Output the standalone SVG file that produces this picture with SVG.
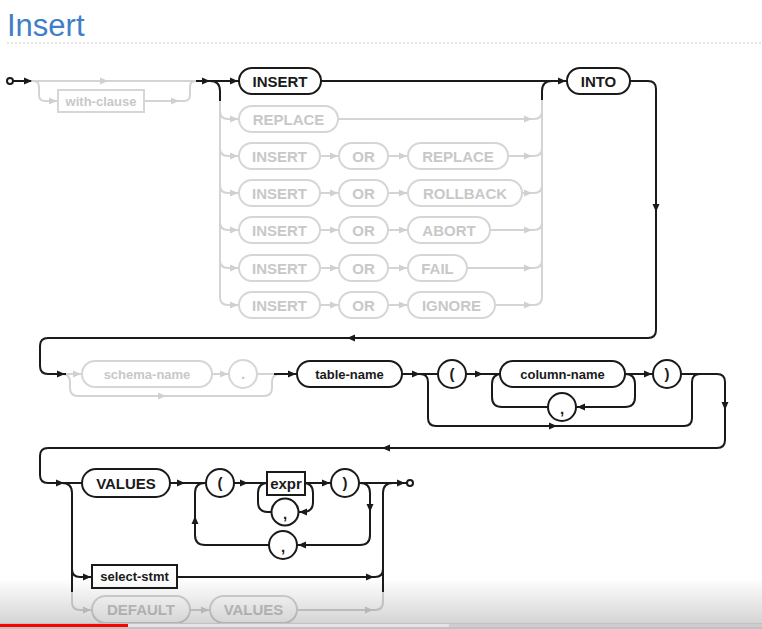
<svg xmlns="http://www.w3.org/2000/svg" xmlns:xlink="http://www.w3.org/1999/xlink" width="762" height="629" viewBox="0 0 762 629">
  <style>
    .b { fill: none; stroke: #1a1a1a; stroke-width: 2; }
    .g { fill: none; stroke: #d4d4d4; stroke-width: 2; }
    .nb { fill: #ffffff; stroke: #1a1a1a; stroke-width: 2; }
    .ng { fill: #ffffff; stroke: #d6d6d6; stroke-width: 2; }
    .kw { font-family: "Liberation Sans", Arial, sans-serif; font-weight: bold; font-size: 15px; text-anchor: middle; }
    .id { font-family: "Liberation Sans", Arial, sans-serif; font-weight: bold; font-size: 13px; text-anchor: middle; }
    .tb { fill: #1a1a1a; }
    .tg { fill: #c8c8c8; }
    .ab { fill: #1a1a1a; }
    .ag { fill: #d0d0d0; }
  </style>
  <defs>
    <path id="ar" d="M0,0 L-8,-3.5 L-8,3.5 Z"/>
    <linearGradient id="shade" x1="0" y1="0" x2="0" y2="1">
      <stop offset="0" stop-color="#000" stop-opacity="0"/>
      <stop offset="1" stop-color="#000" stop-opacity="0.17"/>
    </linearGradient>
  </defs>

  <rect width="762" height="629" fill="#ffffff"/>

  <!-- heading -->
  <text x="7" y="36" font-family="Liberation Sans, Arial, sans-serif" font-size="31" fill="#3f7ec8">Insert</text>
  <line x1="7" y1="43" x2="762" y2="43" stroke="#cccccc" stroke-width="1" stroke-dasharray="2,2"/>

  <!-- connectors -->
  <g id="connectors">
    <!-- inactive (grey) paths -->
    <path class="g" d="M31,81 H198"/>
    <path class="g" d="M33,81 q6,0 6,6 v8 q0,6 6,6 H58"/>
    <path class="g" d="M144,101 H184 q6,0 6,-6 v-8 q0,-6 6,-6"/>
    <path class="g" d="M220,100 V297 q0,8 8,8 H239"/>
    <path class="g" d="M220,111 q0,8 8,8 H239"/>
    <path class="g" d="M220,148 q0,8 8,8 H239"/>
    <path class="g" d="M220,185 q0,8 8,8 H239"/>
    <path class="g" d="M220,222 q0,8 8,8 H239"/>
    <path class="g" d="M220,260 q0,8 8,8 H239"/>
    <path class="g" d="M338,119 H534 q8,0 8,-8"/>
    <path class="g" d="M320,156 H339 M388,156 H408 M508,156 H534 q8,0 8,-8"/>
    <path class="g" d="M320,193 H339 M388,193 H408 M522,193 H534 q8,0 8,-8"/>
    <path class="g" d="M320,230 H339 M388,230 H408 M490,230 H534 q8,0 8,-8"/>
    <path class="g" d="M320,268 H339 M388,268 H408 M467,268 H534 q8,0 8,-8"/>
    <path class="g" d="M320,305 H339 M388,305 H408 M495,305 H534 q8,0 8,-8 V100"/>
    <path class="g" d="M64,374 H82 M212,374 H229 M257,374 H276"/>
    <path class="g" d="M62,374 q8,0 8,8 V388 q0,8 8,8 H264 q8,0 8,-8 V382 q0,-8 8,-8"/>
    <path class="g" d="M72,590 V602 q0,8 8,8 H92 M190,610 H210 M297,610 H375 q8,0 8,-8 V590"/>

    <!-- active (black) paths -->
    <path class="b" d="M13,81 H31"/>
    <path class="b" d="M196,81 H239"/>
    <path class="b" d="M210,81 q10,0 10,10 v10"/>
    <path class="b" d="M321,81 H567"/>
    <path class="b" d="M542,100 V91 q0,-10 10,-10"/>
    <path class="b" d="M630,81 H648 q8,0 8,8 V330 q0,8 -8,8 H48 q-8,0 -8,8 V366 q0,8 8,8 H66"/>
    <path class="b" d="M274,374 H297"/>
    <path class="b" d="M402,374 H438"/>
    <path class="b" d="M420,374 q8,0 8,8 V418 q0,8 8,8 H684 q8,0 8,-8 V382 q0,-8 8,-8"/>
    <path class="b" d="M466,374 H500"/>
    <path class="b" d="M625,374 H653"/>
    <path class="b" d="M625,374 q10,0 10,10 V397 q0,10 -10,10 H576"/>
    <path class="b" d="M548,407 H502 q-10,0 -10,-10 V384 q0,-10 10,-10"/>
    <path class="b" d="M681,374 H717 q8,0 8,8 V440 q0,8 -8,8 H48 q-8,0 -8,8 V475 q0,8 8,8 H82"/>
    <path class="b" d="M62,483 q10,0 10,10 V592"/>
    <path class="b" d="M72,569 q0,8 8,8 H92"/>
    <path class="b" d="M170,483 H206"/>
    <path class="b" d="M234,483 H267"/>
    <path class="b" d="M271,512 H268 q-10,0 -10,-10 V493 q0,-10 10,-10"/>
    <path class="b" d="M305,483 H331"/>
    <path class="b" d="M303,483 q10,0 10,10 V502 q0,10 -10,10 H299"/>
    <path class="b" d="M359,483 H407"/>
    <path class="b" d="M360,483 q10,0 10,10 V535 q0,10 -10,10 H297"/>
    <path class="b" d="M269,545 H205 q-10,0 -10,-10 V493 q0,-10 10,-10"/>
    <path class="b" d="M177,577 H375 q8,0 8,-8"/>
    <path class="b" d="M383,592 V493 q0,-10 10,-10"/>

    <!-- arrowheads, grey -->
    <g class="ag">
      <use xlink:href="#ar" transform="translate(108,81)"/>
      <use xlink:href="#ar" transform="translate(57,101)"/>
      <use xlink:href="#ar" transform="translate(179,101)"/>
      <use xlink:href="#ar" transform="translate(238,119)"/>
      <use xlink:href="#ar" transform="translate(532,119)"/>
      <use xlink:href="#ar" transform="translate(238,156)"/>
      <use xlink:href="#ar" transform="translate(338,156)"/>
      <use xlink:href="#ar" transform="translate(407,156)"/>
      <use xlink:href="#ar" transform="translate(532,156)"/>
      <use xlink:href="#ar" transform="translate(238,193)"/>
      <use xlink:href="#ar" transform="translate(338,193)"/>
      <use xlink:href="#ar" transform="translate(407,193)"/>
      <use xlink:href="#ar" transform="translate(532,193)"/>
      <use xlink:href="#ar" transform="translate(238,230)"/>
      <use xlink:href="#ar" transform="translate(338,230)"/>
      <use xlink:href="#ar" transform="translate(407,230)"/>
      <use xlink:href="#ar" transform="translate(532,230)"/>
      <use xlink:href="#ar" transform="translate(238,268)"/>
      <use xlink:href="#ar" transform="translate(338,268)"/>
      <use xlink:href="#ar" transform="translate(407,268)"/>
      <use xlink:href="#ar" transform="translate(532,268)"/>
      <use xlink:href="#ar" transform="translate(238,305)"/>
      <use xlink:href="#ar" transform="translate(338,305)"/>
      <use xlink:href="#ar" transform="translate(407,305)"/>
      <use xlink:href="#ar" transform="translate(532,305)"/>
      <use xlink:href="#ar" transform="translate(81,374)"/>
      <use xlink:href="#ar" transform="translate(228,374)"/>
      <use xlink:href="#ar" transform="translate(166,396)"/>
      <use xlink:href="#ar" transform="translate(91,610)"/>
      <use xlink:href="#ar" transform="translate(209,610)"/>
      <use xlink:href="#ar" transform="translate(373,610)"/>
    </g>

    <!-- arrowheads, black -->
    <g class="ab">
      <use xlink:href="#ar" transform="translate(32,81)"/>
      <use xlink:href="#ar" transform="translate(210,81)"/>
      <use xlink:href="#ar" transform="translate(238,81)"/>
      <use xlink:href="#ar" transform="translate(566,81)"/>
      <use xlink:href="#ar" transform="translate(656,212) rotate(90)"/>
      <use xlink:href="#ar" transform="translate(347,338) rotate(180)"/>
      <use xlink:href="#ar" transform="translate(65,374)"/>
      <use xlink:href="#ar" transform="translate(296,374)"/>
      <use xlink:href="#ar" transform="translate(420,374)"/>
      <use xlink:href="#ar" transform="translate(483,374)"/>
      <use xlink:href="#ar" transform="translate(652,374)"/>
      <use xlink:href="#ar" transform="translate(577,407) rotate(180)"/>
      <use xlink:href="#ar" transform="translate(557,426)"/>
      <use xlink:href="#ar" transform="translate(725,410) rotate(90)"/>
      <use xlink:href="#ar" transform="translate(382,448) rotate(180)"/>
      <use xlink:href="#ar" transform="translate(64,483)"/>
      <use xlink:href="#ar" transform="translate(185,483)"/>
      <use xlink:href="#ar" transform="translate(248,483)"/>
      <use xlink:href="#ar" transform="translate(330,483)"/>
      <use xlink:href="#ar" transform="translate(405,483)"/>
      <use xlink:href="#ar" transform="translate(299,512) rotate(180)"/>
      <use xlink:href="#ar" transform="translate(370,512) rotate(90)"/>
      <use xlink:href="#ar" transform="translate(298,545) rotate(180)"/>
      <use xlink:href="#ar" transform="translate(195,516) rotate(-90)"/>
      <use xlink:href="#ar" transform="translate(91,577)"/>
      <use xlink:href="#ar" transform="translate(374,577)"/>
    </g>
  </g>

  <!-- start / end terminals -->
  <g id="start"><circle class="nb" cx="10" cy="81" r="3"/></g>
  <g id="end"><circle class="nb" cx="410" cy="483" r="3"/></g>

  <!-- first section: optional WITH and the verb -->
  <g id="with-clause"><rect class="ng" x="58" y="90" width="86" height="22"/><text class="id tg" x="101" y="105.5">with-clause</text></g>
  <g id="insert"><rect class="nb" x="239" y="68" width="82" height="26" rx="13"/><text class="kw tb" x="280" y="86.5">INSERT</text></g>
  <g id="replace"><rect class="ng" x="239" y="106" width="99" height="26" rx="13"/><text class="kw tg" x="288.5" y="124.5">REPLACE</text></g>

  <g id="insert-or-replace">
    <rect class="ng" x="239" y="143" width="81" height="26" rx="13"/><text class="kw tg" x="279.5" y="161.5">INSERT</text>
    <rect class="ng" x="339" y="143" width="49" height="26" rx="13"/><text class="kw tg" x="363.5" y="161.5">OR</text>
    <rect class="ng" x="408" y="143" width="100" height="26" rx="13"/><text class="kw tg" x="458" y="161.5">REPLACE</text>
  </g>
  <g id="insert-or-rollback">
    <rect class="ng" x="239" y="180" width="81" height="26" rx="13"/><text class="kw tg" x="279.5" y="198.5">INSERT</text>
    <rect class="ng" x="339" y="180" width="49" height="26" rx="13"/><text class="kw tg" x="363.5" y="198.5">OR</text>
    <rect class="ng" x="408" y="180" width="114" height="26" rx="13"/><text class="kw tg" x="465" y="198.5">ROLLBACK</text>
  </g>
  <g id="insert-or-abort">
    <rect class="ng" x="239" y="217" width="81" height="26" rx="13"/><text class="kw tg" x="279.5" y="235.5">INSERT</text>
    <rect class="ng" x="339" y="217" width="49" height="26" rx="13"/><text class="kw tg" x="363.5" y="235.5">OR</text>
    <rect class="ng" x="408" y="217" width="82" height="26" rx="13"/><text class="kw tg" x="449" y="235.5">ABORT</text>
  </g>
  <g id="insert-or-fail">
    <rect class="ng" x="239" y="255" width="81" height="26" rx="13"/><text class="kw tg" x="279.5" y="273.5">INSERT</text>
    <rect class="ng" x="339" y="255" width="49" height="26" rx="13"/><text class="kw tg" x="363.5" y="273.5">OR</text>
    <rect class="ng" x="408" y="255" width="59" height="26" rx="13"/><text class="kw tg" x="437.5" y="273.5">FAIL</text>
  </g>
  <g id="insert-or-ignore">
    <rect class="ng" x="239" y="292" width="81" height="26" rx="13"/><text class="kw tg" x="279.5" y="310.5">INSERT</text>
    <rect class="ng" x="339" y="292" width="49" height="26" rx="13"/><text class="kw tg" x="363.5" y="310.5">OR</text>
    <rect class="ng" x="408" y="292" width="87" height="26" rx="13"/><text class="kw tg" x="451.5" y="310.5">IGNORE</text>
  </g>
  <g id="into"><rect class="nb" x="567" y="68" width="63" height="26" rx="13"/><text class="kw tb" x="598.5" y="86.5">INTO</text></g>

  <!-- second section: target table and column list -->
  <g id="schema-name"><rect class="ng" x="82" y="361" width="130" height="26" rx="13"/><text class="id tg" x="147" y="378.5">schema-name</text></g>
  <g id="dot"><circle class="ng" cx="243" cy="374" r="14"/><text class="kw tg" x="243" y="379">.</text></g>
  <g id="table-name"><rect class="nb" x="297" y="361" width="105" height="26" rx="13"/><text class="id tb" x="349.5" y="378.5">table-name</text></g>
  <g id="lparen-cols"><circle class="nb" cx="452" cy="374" r="14"/><text class="kw tb" x="452" y="379">(</text></g>
  <g id="column-name"><rect class="nb" x="500" y="361" width="125" height="26" rx="13"/><text class="id tb" x="562.5" y="378.5">column-name</text></g>
  <g id="comma-cols"><circle class="nb" cx="562" cy="407" r="14"/><text class="kw tb" x="562" y="414">,</text></g>
  <g id="rparen-cols"><circle class="nb" cx="667" cy="374" r="14"/><text class="kw tb" x="667" y="379">)</text></g>

  <!-- third section: data source -->
  <g id="values"><rect class="nb" x="82" y="469" width="88" height="28" rx="14"/><text class="kw tb" x="126" y="488.5">VALUES</text></g>
  <g id="lparen-vals"><circle class="nb" cx="220" cy="483" r="14"/><text class="kw tb" x="220" y="488">(</text></g>
  <g id="expr"><rect class="nb" x="267" y="472" width="38" height="23"/><text class="kw tb" x="286" y="488.5" font-size="14">expr</text></g>
  <g id="comma-expr"><circle class="nb" cx="285" cy="512" r="13.5"/><text class="kw tb" x="285" y="519">,</text></g>
  <g id="rparen-vals"><circle class="nb" cx="345" cy="483" r="14"/><text class="kw tb" x="345" y="488">)</text></g>
  <g id="comma-rows"><circle class="nb" cx="283" cy="545" r="14"/><text class="kw tb" x="283" y="552">,</text></g>
  <g id="select-stmt"><rect class="nb" x="92" y="565" width="85" height="23"/><text class="id tb" x="134.5" y="581">select-stmt</text></g>
  <g id="default"><rect class="ng" x="92" y="596" width="98" height="27" rx="13.5"/><text class="kw tg" x="141" y="615">DEFAULT</text></g>
  <g id="default-values"><rect class="ng" x="210" y="596" width="87" height="27" rx="13.5"/><text class="kw tg" x="253.5" y="615">VALUES</text></g>

  <!-- bottom shading and progress bar -->
  <rect x="0" y="578" width="762" height="46" fill="url(#shade)"/>
  <rect x="0" y="623" width="762" height="6" fill="#c2c2c2"/>
  <rect x="0" y="624" width="762" height="3" fill="#cdcdcd"/>
  <rect x="128" y="624" width="321" height="3" fill="#e4e4e4"/>
  <rect x="0" y="624" width="128" height="3" fill="#ff0000"/>
</svg>
